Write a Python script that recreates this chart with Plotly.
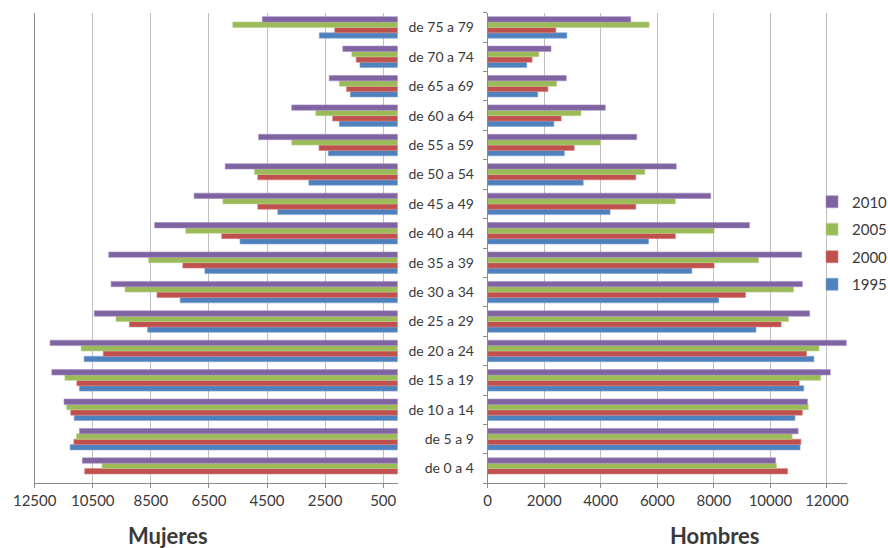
import plotly.graph_objects as go

# Age groups, bottom to top
grupos = ["de 0 a 4", "de 5 a 9", "de 10 a 14", "de 15 a 19", "de 20 a 24",
          "de 25 a 29", "de 30 a 34", "de 35 a 39", "de 40 a 44", "de 45 a 49",
          "de 50 a 54", "de 55 a 59", "de 60 a 64", "de 65 a 69", "de 70 a 74",
          "de 75 a 79"]

anios = ["1995", "2000", "2005", "2010"]

# Women (Mujeres), per age group
mujeres_1995 = [None, 11280, 11140, 10960, 10800, 8610, 7490, 6640, 5430, 4130,
                3060, 2390, 2010, 1630, 1300, 2700]
mujeres_2000 = [10780, 11150, 11260, 11050, 10140, 9240, 8290, 7400, 6060, 4820,
                4820, 2710, 2240, 1760, 1430, 2170]
mujeres_2005 = [10180, 11060, 11400, 11460, 10900, 9700, 9390, 8580, 7300, 6020,
                4930, 3650, 2820, 2010, 1580, 5680]
mujeres_2010 = [10860, 10960, 11490, 11910, 11970, 10450, 9870, 9950, 8370, 7010,
                5940, 4790, 3650, 2360, 1890, 4660]

# Men (Hombres), per age group
hombres_1995 = [None, 11050, 10870, 11180, 11540, 9490, 8170, 7220, 5690, 4330,
                3380, 2710, 2340, 1770, 1380, 2800]
hombres_2000 = [10610, 11080, 11130, 11020, 11280, 10380, 9120, 8010, 6640, 5240,
                5240, 3060, 2600, 2130, 1570, 2410]
hombres_2005 = [10220, 10770, 11340, 11780, 11720, 10640, 10820, 9580, 8010, 6640,
                5560, 3980, 3300, 2440, 1810, 5710]
hombres_2010 = [10180, 10980, 11310, 12120, 12690, 11390, 11130, 11110, 9260, 7890,
                6670, 5270, 4160, 2780, 2240, 5060]

mujeres = [mujeres_1995, mujeres_2000, mujeres_2005, mujeres_2010]
hombres = [hombres_1995, hombres_2000, hombres_2005, hombres_2010]

colores = ["#4F81BD", "#C0504D", "#9BBB59", "#8064A2"]
bordes = ["#7FA3D3", "#D47F7D", "#B9D28A", "#A28CC0"]

fuente = "Lato, 'Open Sans', sans-serif"
texto = "#3a3a3a"
rejilla = "#BFBFBF"
eje = "#8C8C8C"

fig = go.Figure()

for anio, vals, col, bor in zip(anios, mujeres, colores, bordes):
    fig.add_trace(go.Bar(
        y=grupos, x=vals, orientation="h", name=anio,
        marker=dict(color=col, line=dict(color=bor, width=0.6)),
        xaxis="x", yaxis="y", showlegend=False,
    ))

# Legend lists the newest year first
for i, (anio, vals, col, bor) in enumerate(zip(anios, hombres, colores, bordes)):
    fig.add_trace(go.Bar(
        y=grupos, x=vals, orientation="h", name=anio,
        marker=dict(color=col, line=dict(color=bor, width=0.6)),
        xaxis="x2", yaxis="y2", showlegend=True,
        legendgroup=anio, legendrank=len(anios) - i,
    ))

W, H = 888, 548
ydom = [(H - 483.3) / H, (H - 12.7) / H]

tickfont = dict(family=fuente, size=15, color=texto)

fig.update_layout(
    width=W, height=H,
    margin=dict(l=0, r=0, t=0, b=0, autoexpand=False),
    paper_bgcolor="white", plot_bgcolor="white",
    barmode="group", bargap=0.27, bargroupgap=0,
    font=dict(family=fuente, color=texto),
    xaxis=dict(
        domain=[34.7 / W, 397.7 / W], anchor="y", automargin=False,
        range=[12500, 0], tick0=500, dtick=2000, tickformat="d",
        showgrid=True, gridcolor=rejilla, gridwidth=1, zeroline=False,
        showline=True, linecolor=eje, linewidth=1,
        ticks="outside", ticklen=4, tickcolor=eje,
        tickfont=tickfont,
    ),
    yaxis=dict(
        domain=ydom, anchor="x", automargin=False,
        categoryorder="array", categoryarray=grupos,
        showticklabels=False, showgrid=False, zeroline=False,
        showline=True, linecolor=eje, linewidth=1, ticks="",
    ),
    xaxis2=dict(
        domain=[487.7 / W, 846.7 / W], anchor="y2", automargin=False,
        range=[0, 12700], tick0=0, dtick=2000, tickformat="d",
        showgrid=True, gridcolor=rejilla, gridwidth=1, zeroline=False,
        showline=True, linecolor=eje, linewidth=1,
        ticks="outside", ticklen=4, tickcolor=eje,
        tickfont=tickfont,
    ),
    yaxis2=dict(
        domain=ydom, anchor="x2", side="left", automargin=False,
        categoryorder="array", categoryarray=grupos,
        showgrid=False, zeroline=False,
        showline=True, linecolor=eje, linewidth=1,
        ticks="outside", ticklen=4, tickcolor=eje, tickson="boundaries",
        tickfont=dict(family=fuente, size=14, color=texto),
        ticklabelstandoff=10,
    ),
    legend=dict(
        x=1 + 5 / W, xanchor="right", y=1 - 185.5 / H, yanchor="top",
        traceorder="grouped", tracegroupgap=5,
        font=dict(family=fuente, size=15, color=texto),
        bgcolor="rgba(0,0,0,0)",
    ),
    annotations=[
        dict(text="<b>Mujeres</b>", x=167.5 / W, y=1 - 535 / H,
             xref="paper", yref="paper", showarrow=False,
             xanchor="center", yanchor="middle",
             font=dict(family=fuente, size=22, color="#3a3a3a")),
        dict(text="<b>Hombres</b>", x=714 / W, y=1 - 535 / H,
             xref="paper", yref="paper", showarrow=False,
             xanchor="center", yanchor="middle",
             font=dict(family=fuente, size=22, color="#3a3a3a")),
    ],
)

fig.write_html("out.html")
